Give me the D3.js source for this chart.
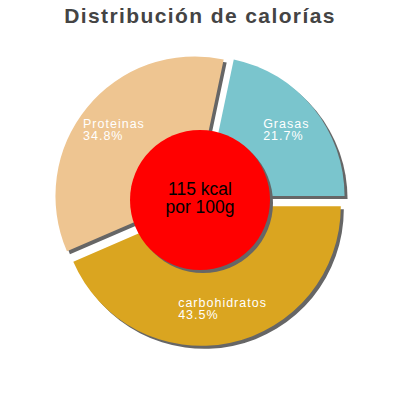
<!DOCTYPE html>
<html>
<head>
<meta charset="utf-8">
<script src="https://cdn.jsdelivr.net/npm/d3@7"></script>
<style>
  body { margin: 0; background: #fff; }
  text { font-family: "Liberation Sans", Arial, sans-serif; }
</style>
</head>
<body>
<script>
var categories = ["Grasas", "carbohidratos", "Proteinas"];
var values = [21.7, 43.5, 34.8];
var colors = ["#7AC5CD", "#DAA520", "#EEC591"];
var title = "Distribución de calorías";
var centerLines = ["115 kcal", "por 100g"];

var width = 400, height = 400;
var cx = 200, cy = 200;
var radius = 139.5;     // outer radius of the pie
var explode = 6.5;      // how far each slice is pulled out
var shadow = 3;         // drop shadow offset

var total = d3.sum(values);
// start so that the first slice ends at 3 o'clock
var start = Math.PI / 2 - 2 * Math.PI * values[0] / total;

var pie = d3.pie()
    .sort(null)
    .startAngle(start)
    .endAngle(start + 2 * Math.PI)
    .value(function(d) { return d; });

var arc = d3.arc().innerRadius(0).outerRadius(radius);
var labelArc = d3.arc().innerRadius(radius * 0.5).outerRadius(radius);

var slices = pie(values);

function offset(d) {
  var a = (d.startAngle + d.endAngle) / 2;
  return [Math.sin(a) * explode, -Math.cos(a) * explode];
}

var svg = d3.select("body").append("svg")
    .attr("width", width)
    .attr("height", height);

svg.append("text")
    .attr("x", width / 2)
    .attr("y", 23)
    .attr("text-anchor", "middle")
    .attr("font-size", 21)
    .attr("font-weight", "bold")
    .attr("letter-spacing", 1.4)
    .attr("fill", "#444")
    .text(title);

var chart = svg.append("g").attr("transform", "translate(" + cx + "," + cy + ")");

// shadows first, so the slices sit on top of them
chart.append("g").selectAll("path")
    .data(slices)
    .enter().append("path")
    .attr("transform", function(d) {
      var o = offset(d);
      return "translate(" + (o[0] + shadow) + "," + (o[1] + shadow) + ")";
    })
    .attr("d", arc)
    .attr("fill", "#666");

chart.append("g").selectAll("path")
    .data(slices)
    .enter().append("path")
    .attr("transform", function(d) { return "translate(" + offset(d) + ")"; })
    .attr("d", arc)
    .attr("fill", function(d, i) { return colors[i]; });

// slice labels: left aligned block, centred on the arc centroid
var labels = chart.append("g").selectAll("text")
    .data(slices)
    .enter().append("text")
    .attr("fill", "#fff")
    .attr("font-size", 12.5)
    .attr("letter-spacing", 1);

labels.append("tspan").attr("x", 0).attr("y", 0)
    .text(function(d, i) { return categories[i]; });
labels.append("tspan").attr("x", 0).attr("dy", 12).text(function(d) {
  return d3.format(".1f")(d.value / total * 100) + "%";
});

labels.each(function(d) {
  var c = labelArc.centroid(d), o = offset(d);
  var w = this.getBBox().width;
  var x = c[0] + o[0] - w / 2;
  var y = c[1] + o[1] - 2;
  d3.select(this).selectAll("tspan").attr("x", x);
  d3.select(this).select("tspan").attr("y", y);
});

// centre disc
chart.append("circle")
    .attr("cx", shadow).attr("cy", shadow)
    .attr("r", 70)
    .attr("fill", "#666");
chart.append("circle")
    .attr("r", 70)
    .attr("fill", "#FF0000");

chart.append("text")
    .attr("text-anchor", "middle")
    .attr("font-size", 17.5)
    .attr("fill", "#000")
    .selectAll("tspan")
    .data(centerLines)
    .enter().append("tspan")
    .attr("x", 0)
    .attr("y", function(d, i) { return -5 + i * 17.7; })
    .text(function(d) { return d; });
</script>
</body>
</html>
